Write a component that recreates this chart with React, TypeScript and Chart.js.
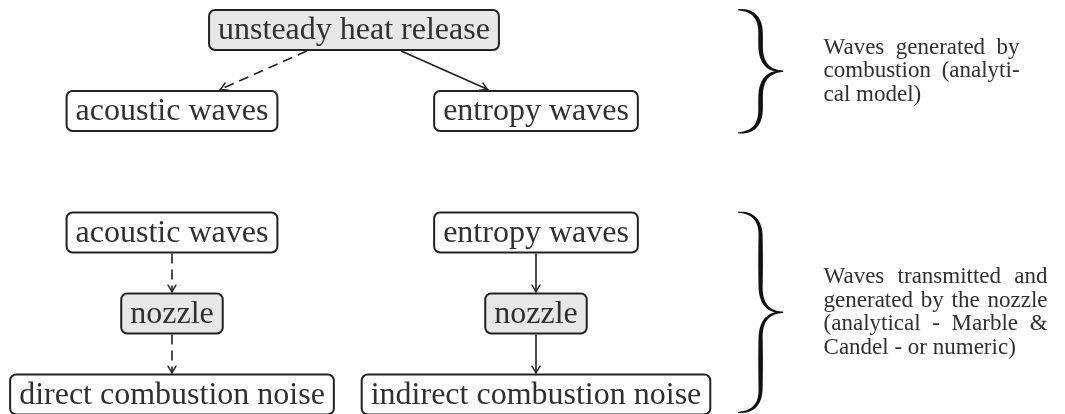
import React, { useEffect, useRef } from "react";
import { Chart, registerables } from "chart.js";

Chart.register(...registerables);

// ---- Diagram data ----
const nodeLabels = [
  "unsteady heat release",
  "acoustic waves",
  "entropy waves",
  "acoustic waves",
  "nozzle",
  "direct combustion noise",
  "entropy waves",
  "nozzle",
  "indirect combustion noise",
];
const nodeCol = [0.5, 0, 1, 0, 0, 0, 1, 1, 1];
const nodeLevel = [0, 1, 1, 2.5, 3.5, 4.5, 2.5, 3.5, 4.5];
const nodeShaded = [true, false, false, false, true, false, false, true, false];

const edgeFrom = [0, 0, 3, 4, 6, 7];
const edgeTo = [1, 2, 4, 5, 7, 8];
const edgeDashed = [true, false, true, true, false, false];

const braceTopLevel = [-0.25, 2.25];
const braceBottomLevel = [1.27, 4.72];

const noteLines1 = ["Waves generated by", "combustion (analyti-", "cal model)"];
const noteLines2 = [
  "Waves transmitted and",
  "generated by the nozzle",
  "(analytical - Marble &",
  "Candel - or numeric)",
];

// ---- Style / layout constants ----
const BOX_FONT = '32px "Liberation Serif", "DejaVu Serif", serif';
const NOTE_FONT = '23px "Liberation Serif", "DejaVu Serif", serif';
const BOX_PAD_X = 9;
const BOX_H = 40;
const BRACE_LEFT_COL = 1.555;
const BRACE_TIP_COL = 1.679;
const NOTE_COL = 1.79;
const NOTE_WIDTHS = [196, 224];
const NOTE_LINE_H = 23.5;
const INK = "#222";
const TEXT = "#303030";
const FILL = "#e7e7e7";

function roundRect(ctx: CanvasRenderingContext2D, x: number, y: number, w: number, h: number, r: number) {
  ctx.beginPath();
  ctx.moveTo(x + r, y);
  ctx.lineTo(x + w - r, y);
  ctx.arcTo(x + w, y, x + w, y + r, r);
  ctx.lineTo(x + w, y + h - r);
  ctx.arcTo(x + w, y + h, x + w - r, y + h, r);
  ctx.lineTo(x + r, y + h);
  ctx.arcTo(x, y + h, x, y + h - r, r);
  ctx.lineTo(x, y + r);
  ctx.arcTo(x, y, x + r, y, r);
  ctx.closePath();
}

function drawArrowHead(ctx: CanvasRenderingContext2D, px: number, py: number, ux: number, uy: number) {
  const nx = -uy, ny = ux;
  const L = 7, W = 4;
  ctx.save();
  ctx.setLineDash([]);
  ctx.lineWidth = 1.4;
  ctx.lineCap = "round";
  ctx.beginPath();
  ctx.moveTo(px - ux * L + nx * W, py - uy * L + ny * W);
  ctx.quadraticCurveTo(px - ux * 2 + nx * 0.8, py - uy * 2 + ny * 0.8, px, py);
  ctx.quadraticCurveTo(px - ux * 2 - nx * 0.8, py - uy * 2 - ny * 0.8, px - ux * L - nx * W, py - uy * L - ny * W);
  ctx.stroke();
  ctx.restore();
}

function quadPts(p0: number[], c: number[], p1: number[], n: number) {
  const out: number[][] = [];
  for (let i = 0; i <= n; i++) {
    const t = i / n;
    const a = (1 - t) * (1 - t), b = 2 * (1 - t) * t, d = t * t;
    out.push([a * p0[0] + b * c[0] + d * p1[0], a * p0[1] + b * c[1] + d * p1[1]]);
  }
  return out;
}

function drawBraceHalf(ctx: CanvasRenderingContext2D, x0: number, xv: number, x1: number, yEnd: number, ym: number) {
  const dir = ym > yEnd ? 1 : -1;
  const span = Math.abs(ym - yEnd);
  const r1 = Math.min(24, span * 0.42);
  const r2 = Math.min(26, span * 0.45);
  let pts: number[][] = [];
  pts = pts.concat(quadPts([x0, yEnd], [xv, yEnd], [xv, yEnd + dir * r1], 30));
  const ya = yEnd + dir * r1, yb = ym - dir * r2;
  const nLine = 12;
  for (let i = 1; i <= nLine; i++) pts.push([xv, ya + ((yb - ya) * i) / nLine]);
  pts = pts.concat(quadPts([xv, yb], [xv, ym], [x1, ym], 30).slice(1));
  const lens = [0];
  for (let i = 1; i < pts.length; i++) {
    lens.push(lens[i - 1] + Math.hypot(pts[i][0] - pts[i - 1][0], pts[i][1] - pts[i - 1][1]));
  }
  const total = lens[lens.length - 1];
  const left: number[][] = [];
  const right: number[][] = [];
  for (let i = 0; i < pts.length; i++) {
    const p = pts[i];
    const a = pts[Math.max(0, i - 1)], b = pts[Math.min(pts.length - 1, i + 1)];
    let tx = b[0] - a[0], ty = b[1] - a[1];
    const tl = Math.hypot(tx, ty) || 1;
    tx /= tl; ty /= tl;
    const nx = -ty, ny = tx;
    const f = lens[i] / total;
    const w = 1.0 + 3.6 * Math.pow(Math.sin(Math.PI * f), 0.75);
    left.push([p[0] + nx * w / 2, p[1] + ny * w / 2]);
    right.push([p[0] - nx * w / 2, p[1] - ny * w / 2]);
  }
  ctx.save();
  ctx.fillStyle = "#111";
  ctx.beginPath();
  ctx.moveTo(left[0][0], left[0][1]);
  for (let i = 1; i < left.length; i++) ctx.lineTo(left[i][0], left[i][1]);
  for (let i = right.length - 1; i >= 0; i--) ctx.lineTo(right[i][0], right[i][1]);
  ctx.closePath();
  ctx.fill();
  ctx.restore();
}

function drawJustified(ctx: CanvasRenderingContext2D, lines: string[], x: number, yCenter: number, width: number) {
  ctx.save();
  ctx.font = NOTE_FONT;
  ctx.fillStyle = TEXT;
  ctx.textAlign = "left";
  ctx.textBaseline = "middle";
  const n = lines.length;
  const y0 = yCenter - ((n - 1) * NOTE_LINE_H) / 2;
  lines.forEach((line, li) => {
    const y = y0 + li * NOTE_LINE_H;
    const words = line.split(" ");
    const space = ctx.measureText(" ").width;
    if (li === n - 1 || words.length < 2) {
      let cx = x;
      words.forEach((w) => {
        ctx.fillText(w, cx, y);
        cx += ctx.measureText(w).width + space;
      });
      return;
    }
    const sum = words.reduce((s, w) => s + ctx.measureText(w).width, 0);
    const gap = Math.max(space * 0.8, (width - sum) / (words.length - 1));
    let cx = x;
    words.forEach((w) => {
      ctx.fillText(w, cx, y);
      cx += ctx.measureText(w).width + gap;
    });
  });
  ctx.restore();
}

const diagramPlugin = {
  id: "diagram",
  afterDatasetsDraw(chart: any) {
    const ctx: CanvasRenderingContext2D = chart.ctx;
    const xs = chart.scales.x;
    const ys = chart.scales.y;
    const meta = chart.getDatasetMeta(0);
    ctx.save();
    ctx.font = BOX_FONT;
    const boxes = nodeLabels.map((label, i) => {
      const el = meta.data[i];
      const cx = el.x, cy = el.y;
      const w = ctx.measureText(label).width + 2 * BOX_PAD_X;
      return { cx, cy, hw: w / 2, hh: BOX_H / 2 };
    });

    // edges
    ctx.strokeStyle = INK;
    edgeFrom.forEach((a, k) => {
      const A = boxes[a], B = boxes[edgeTo[k]];
      const dx = B.cx - A.cx, dy = B.cy - A.cy;
      const len = Math.hypot(dx, dy);
      const ux = dx / len, uy = dy / len;
      const tA = Math.min(Math.abs(ux) > 1e-6 ? (A.hw + 1) / Math.abs(ux) : 1e9, Math.abs(uy) > 1e-6 ? (A.hh + 1) / Math.abs(uy) : 1e9);
      const tB = Math.min(Math.abs(ux) > 1e-6 ? (B.hw + 1.5) / Math.abs(ux) : 1e9, Math.abs(uy) > 1e-6 ? (B.hh + 1.5) / Math.abs(uy) : 1e9);
      const sx = A.cx + ux * tA, sy = A.cy + uy * tA;
      const ex = B.cx - ux * tB, ey = B.cy - uy * tB;
      ctx.save();
      ctx.lineWidth = 1.6;
      ctx.setLineDash(edgeDashed[k] ? [10, 6] : []);
      ctx.beginPath();
      ctx.moveTo(sx, sy);
      ctx.lineTo(ex - ux * 1, ey - uy * 1);
      ctx.stroke();
      ctx.restore();
      drawArrowHead(ctx, ex, ey, ux, uy);
    });

    // boxes
    boxes.forEach((b, i) => {
      roundRect(ctx, b.cx - b.hw, b.cy - b.hh, b.hw * 2, b.hh * 2, 6);
      ctx.fillStyle = nodeShaded[i] ? FILL : "#ffffff";
      ctx.fill();
      ctx.lineWidth = 2;
      ctx.strokeStyle = INK;
      ctx.setLineDash([]);
      ctx.stroke();
      ctx.fillStyle = TEXT;
      ctx.textAlign = "center";
      ctx.textBaseline = "alphabetic";
      ctx.fillText(nodeLabels[i], b.cx, b.cy + 9);
    });

    // braces + notes
    const notes = [noteLines1, noteLines2];
    braceTopLevel.forEach((top, i) => {
      const yt = ys.getPixelForValue(top);
      const yb = ys.getPixelForValue(braceBottomLevel[i]);
      const ym = (yt + yb) / 2;
      const x0 = xs.getPixelForValue(BRACE_LEFT_COL);
      const x1 = xs.getPixelForValue(BRACE_TIP_COL);
      const xv = (x0 + x1) / 2;
      drawBraceHalf(ctx, x0, xv, x1, yt, ym);
      drawBraceHalf(ctx, x0, xv, x1, yb, ym);
      drawJustified(ctx, notes[i], xs.getPixelForValue(NOTE_COL), ym, NOTE_WIDTHS[i]);
    });
    ctx.restore();
  },
};

export default function App() {
  const canvasRef = useRef<HTMLCanvasElement | null>(null);
  useEffect(() => {
    if (!canvasRef.current) return;
    const chart = new Chart(canvasRef.current, {
      type: "scatter",
      data: {
        datasets: [
          {
            data: nodeCol.map((c, i) => ({ x: c, y: nodeLevel[i] })),
            pointRadius: 0,
            pointHoverRadius: 0,
          },
        ],
      },
      options: {
        animation: false,
        responsive: true,
        maintainAspectRatio: false,
        events: [],
        layout: { padding: 0 },
        scales: {
          x: { type: "linear", min: -0.4725, max: 2.4533, display: false },
          y: { type: "linear", min: -0.37, max: 4.74, reverse: true, display: false },
        },
        plugins: { legend: { display: false }, tooltip: { enabled: false } },
      },
      plugins: [diagramPlugin],
    });
    return () => chart.destroy();
  }, []);
  return (
    <div style={{ position: "fixed", left: 0, top: 0, width: 1065, height: 414, background: "#fff" }}>
      <canvas ref={canvasRef} />
    </div>
  );
}
